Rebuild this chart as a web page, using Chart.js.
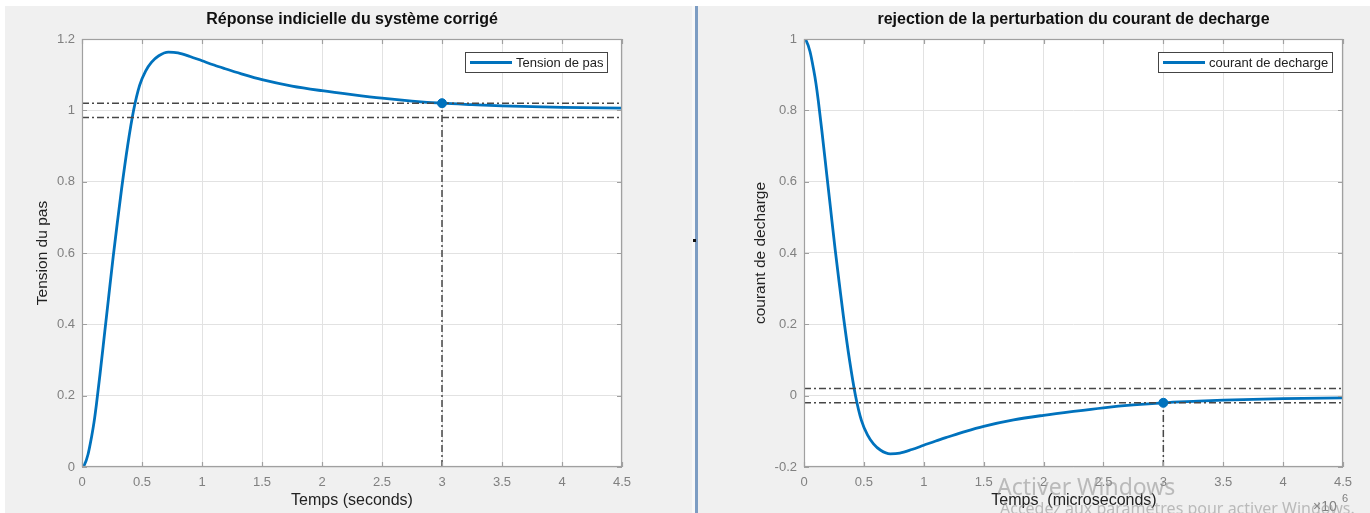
<!DOCTYPE html>
<html><head><meta charset="utf-8">
<script src="https://cdn.jsdelivr.net/npm/chart.js@4.4.0/dist/chart.umd.min.js"></script>
<style>
html,body{margin:0;padding:0;background:#fff;width:1370px;height:513px;overflow:hidden;font-family:"Liberation Sans",Arial,sans-serif;}
#panelL{position:absolute;left:5px;top:6px;width:687px;height:507px;background:#f0f0f0;}
#strip{position:absolute;left:692px;top:6px;width:3px;height:507px;background:#f8f8f8;}
#divider{position:absolute;left:695px;top:6px;width:3px;height:507px;background:#7d9dc3;}
#panelR{position:absolute;left:698px;top:6px;width:672px;height:507px;background:#f0f0f0;}
#dot{position:absolute;left:693px;top:239px;width:3px;height:3px;background:#111;}
#cL{position:absolute;left:0;top:0;}
#cR{position:absolute;left:700px;top:0;}
.wm{position:absolute;color:rgba(150,150,150,0.6);font-family:"Noto Sans","Open Sans",sans-serif;white-space:nowrap;}
#wm1{left:997px;top:470px;font-size:23px;}
#wm2{left:1000px;top:497px;font-size:16px;}
</style>
</head><body>
<div id="panelL"></div><div id="strip"></div><div id="divider"></div><div id="panelR"></div><div id="dot"></div>
<canvas id="cL" width="690" height="513"></canvas>
<canvas id="cR" width="670" height="513"></canvas>
<div class="wm" id="wm1">Activer Windows</div>
<div class="wm" id="wm2">Accédez aux paramètres pour activer Windows.</div>
<script>
// ---- data ----
const tSeconds = [0, 0.02, 0.05, 0.08, 0.1, 0.12, 0.15, 0.19, 0.22, 0.26, 0.3, 0.33, 0.38, 0.43, 0.48, 0.53, 0.58, 0.64, 0.72, 0.8, 0.9, 1.0, 1.1, 1.2, 1.35, 1.5, 1.75, 2.0, 2.25, 2.5, 2.75, 3.0, 3.25, 3.5, 4.0, 4.5];
const tensionPas = [0, 0.006, 0.035, 0.085, 0.125, 0.175, 0.26, 0.38, 0.47, 0.59, 0.70, 0.78, 0.90, 1.0, 1.07, 1.11, 1.135, 1.153, 1.163, 1.161, 1.151, 1.139, 1.127, 1.116, 1.1, 1.086, 1.068, 1.055, 1.044, 1.034, 1.026, 1.02, 1.016, 1.0125, 1.0085, 1.006];
const tMicro = [0, 0.02, 0.05, 0.08, 0.1, 0.12, 0.15, 0.19, 0.22, 0.26, 0.3, 0.33, 0.38, 0.43, 0.48, 0.53, 0.58, 0.64, 0.72, 0.8, 0.9, 1.0, 1.1, 1.2, 1.35, 1.5, 1.75, 2.0, 2.25, 2.5, 2.75, 3.0, 3.25, 3.5, 4.0, 4.5];
const courantDecharge = [1, 0.994, 0.965, 0.915, 0.875, 0.825, 0.74, 0.62, 0.53, 0.41, 0.30, 0.22, 0.10, 0, -0.07, -0.11, -0.135, -0.153, -0.163, -0.161, -0.151, -0.139, -0.127, -0.116, -0.1, -0.086, -0.068, -0.055, -0.044, -0.034, -0.026, -0.02, -0.016, -0.0125, -0.0085, -0.006];
const xTicks = [0, 0.5, 1, 1.5, 2, 2.5, 3, 3.5, 4, 4.5];
const xTickLabels = ['0', '0.5', '1', '1.5', '2', '2.5', '3', '3.5', '4', '4.5'];
const yTicksLeft = [0, 0.2, 0.4, 0.6, 0.8, 1, 1.2];
const yTickLabelsLeft = ['0', '0.2', '0.4', '0.6', '0.8', '1', '1.2'];
const yTicksRight = [-0.2, 0, 0.2, 0.4, 0.6, 0.8, 1];
const yTickLabelsRight = ['-0.2', '0', '0.2', '0.4', '0.6', '0.8', '1'];
const settleLeft = [1.02, 0.98];
const settleRight = [0.02, -0.02];
const settleTime = 3;
const markerLeft = 1.02;
const markerRight = -0.02;

const FAM = '"Liberation Sans", Arial, sans-serif';
const BLUE = '#0072BD';

const decor = {
  id: 'decor',
  beforeDraw(chart) {
    const a = chart.chartArea, ctx = chart.ctx;
    ctx.save(); ctx.fillStyle = '#fff';
    ctx.fillRect(a.left, a.top, a.right - a.left, a.bottom - a.top);
    ctx.restore();
  },
  afterDraw(chart, args, o) {
    const a = chart.chartArea, ctx = chart.ctx;
    const xs = chart.scales.x, ys = chart.scales.y;
    ctx.save();
    ctx.strokeStyle = '#a0a0a0'; ctx.lineWidth = 1.2;
    ctx.strokeRect(a.left + 0.5, a.top + 0.5, a.right - a.left - 1, a.bottom - a.top - 1);
    ctx.beginPath();
    xs.ticks.forEach(t => {
      const px = Math.round(xs.getPixelForValue(t.value)) + 0.5;
      ctx.moveTo(px, a.bottom); ctx.lineTo(px, a.bottom - 5);
      ctx.moveTo(px, a.top); ctx.lineTo(px, a.top + 5);
    });
    ys.ticks.forEach(t => {
      const py = Math.round(ys.getPixelForValue(t.value)) + 0.5;
      ctx.moveTo(a.left, py); ctx.lineTo(a.left + 5, py);
      ctx.moveTo(a.right, py); ctx.lineTo(a.right - 5, py);
    });
    ctx.stroke();
    ctx.fillStyle = '#111'; ctx.textAlign = 'center'; ctx.textBaseline = 'middle';
    ctx.font = 'bold 16px ' + FAM;
    ctx.fillText(o.title, (a.left + a.right) / 2, 20);
    ctx.fillStyle = '#222';
    ctx.font = '16px ' + FAM;
    ctx.fillText(o.xTitle, o.xTitleX, 501);
    ctx.save();
    ctx.font = '15.5px ' + FAM;
    ctx.translate(o.yTitleX, (a.top + a.bottom) / 2);
    ctx.rotate(-Math.PI / 2);
    ctx.fillText(o.yTitle, 0, 0);
    ctx.restore();
    const L = o.legend;
    ctx.fillStyle = '#fff'; ctx.fillRect(L.x, L.y, L.w, L.h);
    ctx.strokeStyle = '#444'; ctx.lineWidth = 1;
    ctx.strokeRect(L.x + 0.5, L.y + 0.5, L.w, L.h);
    ctx.strokeStyle = BLUE; ctx.lineWidth = 2.8;
    ctx.beginPath(); ctx.moveTo(L.x + 5, L.y + L.h / 2 + 0.5); ctx.lineTo(L.x + 5 + L.line, L.y + L.h / 2 + 0.5); ctx.stroke();
    ctx.fillStyle = '#222'; ctx.textAlign = 'left'; ctx.font = '13px ' + FAM;
    ctx.fillText(chart.data.datasets[0].label, L.x + 9 + L.line, L.y + L.h / 2 + 1);
    if (o.exponent) {
      ctx.fillStyle = '#808080'; ctx.font = '14px ' + FAM; ctx.textAlign = 'left';
      ctx.fillText('\u00d710', a.right - 30, 507);
      ctx.font = '11px ' + FAM;
      ctx.fillText(o.exponent, a.right - 1, 499);
    }
    ctx.restore();
  }
};

function makeChart(id, x, y, legendLabel, yTicks, yLabels, settle, marker, ymin, ymax, yWidth, padRight, decorOpts) {
  const xmin = 0, xmax = 4.5;
  const dash = { borderColor: '#474747', borderWidth: 1.5, borderDash: [7, 3, 2, 3], pointRadius: 0, tension: 0, order: 0 };
  return new Chart(document.getElementById(id), {
    type: 'line',
    data: {
      datasets: [
        { label: legendLabel, data: x.map((v, i) => ({ x: v, y: y[i] })), borderColor: BLUE, borderWidth: 2.8, pointRadius: 0, cubicInterpolationMode: 'monotone', order: 1 },
        Object.assign({ label: 'upper', data: [{ x: xmin, y: settle[0] }, { x: xmax, y: settle[0] }] }, dash),
        Object.assign({ label: 'lower', data: [{ x: xmin, y: settle[1] }, { x: xmax, y: settle[1] }] }, dash),
        Object.assign({ label: 'vert', data: [{ x: settleTime, y: ymin }, { x: settleTime, y: marker }] }, dash),
        { label: 'marker', data: [{ x: settleTime, y: marker }], showLine: false, pointRadius: 4.5, pointBackgroundColor: BLUE, pointBorderColor: BLUE, order: -1 }
      ]
    },
    options: {
      responsive: false, animation: false, devicePixelRatio: 1,
      layout: { padding: { left: 0, top: 39, right: padRight, bottom: 0 } },
      plugins: { legend: { display: false }, title: { display: false }, tooltip: { enabled: false }, decor: decorOpts },
      scales: {
        x: {
          type: 'linear', min: xmin, max: xmax,
          afterFit(s) { s.height = 46; },
          afterBuildTicks(s) { s.ticks = xTicks.map(v => ({ value: v })); },
          ticks: { callback: (v, i) => xTickLabels[i], color: '#808080', font: { size: 13, family: FAM }, padding: 8, maxRotation: 0, autoSkip: false },
          grid: { color: '#e2e2e2', drawTicks: false }, border: { display: false }
        },
        y: {
          type: 'linear', min: ymin, max: ymax,
          afterFit(s) { s.width = yWidth; },
          afterBuildTicks(s) { s.ticks = yTicks.map(v => ({ value: v })); },
          ticks: { callback: (v, i) => yLabels[i], color: '#808080', font: { size: 13, family: FAM }, padding: 7, autoSkip: false },
          grid: { color: '#e2e2e2', drawTicks: false }, border: { display: false }
        }
      }
    },
    plugins: [decor]
  });
}

makeChart('cL', tSeconds, tensionPas, 'Tension de pas', yTicksLeft, yTickLabelsLeft, settleLeft, markerLeft, 0, 1.2, 82, 68, {
  title: 'Réponse indicielle du système corrigé', xTitle: 'Temps (seconds)', xTitleX: 352, yTitle: 'Tension du pas', yTitleX: 43,
  legend: { x: 465, y: 52, w: 142, h: 20, line: 42 }
});
makeChart('cR', tMicro, courantDecharge, 'courant de decharge', yTicksRight, yTickLabelsRight, settleRight, markerRight, -0.2, 1, 104, 27, {
  title: 'rejection de la perturbation du courant de decharge', xTitle: 'Temps  (microseconds)', xTitleX: 374, yTitle: 'courant de decharge', yTitleX: 61,
  legend: { x: 458, y: 52, w: 174, h: 20, line: 42 }, exponent: '6'
});
</script>
</body></html>
